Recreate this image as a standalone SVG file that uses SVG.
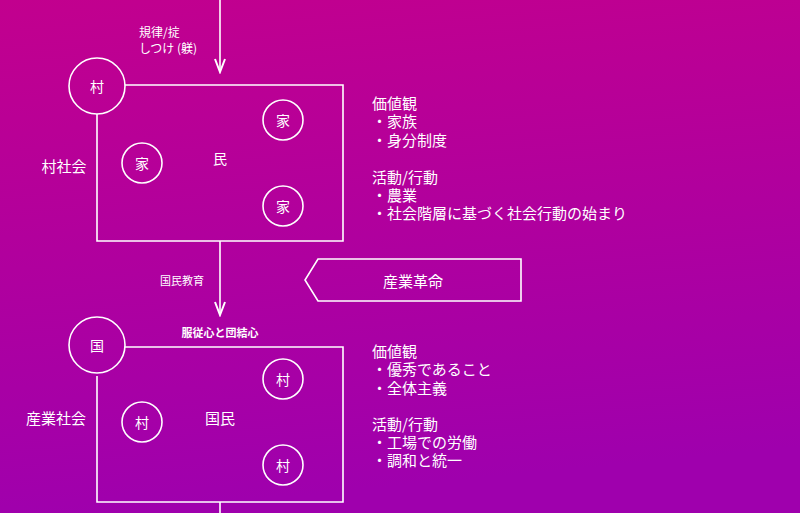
<svg xmlns="http://www.w3.org/2000/svg" width="800" height="513" viewBox="0 0 800 513">
<defs>
<linearGradient id="bg" x1="0" y1="0" x2="0.15" y2="1">
<stop offset="0" stop-color="#c2008e"/>
<stop offset="1" stop-color="#9f00ad"/>
</linearGradient>
<marker id="arr" viewBox="0 0 16 12" refX="14" refY="6" markerWidth="16" markerHeight="12" markerUnits="userSpaceOnUse" orient="auto">
<path d="M1,1 L14,6 L1,11" fill="none" stroke="#fff" stroke-width="2"/>
</marker>
<style>
.ln{fill:none;stroke:#fff;stroke-width:1.6}
.c{fill:none;stroke:#fff;stroke-width:1.6}
text{fill:#fff;font-family:"Noto Sans CJK JP","Noto Sans",sans-serif}
.m{text-anchor:middle;dominant-baseline:central}
.t15{font-size:15px}
.t14{font-size:14px}
.t12{font-size:12px}
.t11{font-size:11px}
.b{font-weight:bold}
</style>
</defs>
<rect width="800" height="513" fill="url(#bg)"/>
<g id="connectors">
<line class="ln" x1="220" y1="0" x2="220" y2="72" marker-end="url(#arr)"/>
<line class="ln" x1="220" y1="241" x2="220" y2="315" marker-end="url(#arr)"/>
<line class="ln" x1="220" y1="502" x2="220" y2="513"/>
<text class="t12" x="139" y="37">規律/掟<tspan x="139" y="53">しつけ (躾)</tspan></text>
<text class="t11 m" x="182" y="280">国民教育</text>
<text class="t11 m b" x="220" y="332">服従心と団結心</text>
</g>
<g id="village-society">
<path class="ln" d="M125,85 H343 V241 H97 V114"/>
<circle class="c" cx="97" cy="86" r="28"/>
<text class="t14 m" x="97" y="86">村</text>
<text class="t15 m" x="64" y="165">村社会</text>
<text class="t14 m" x="220" y="158">民</text>
<g id="ie1"><circle class="c" cx="283" cy="120" r="20"/><text class="t14 m" x="283" y="120">家</text></g>
<g id="ie2"><circle class="c" cx="142" cy="163" r="20"/><text class="t14 m" x="142" y="163">家</text></g>
<g id="ie3"><circle class="c" cx="283" cy="206" r="20"/><text class="t14 m" x="283" y="206">家</text></g>
</g>
<g id="village-notes">
<text class="t15" x="372" y="109">価値観<tspan x="372" y="127">・家族</tspan><tspan x="372" y="146">・身分制度</tspan><tspan x="372" y="183">活動/行動</tspan><tspan x="372" y="201">・農業</tspan><tspan x="372" y="219">・社会階層に基づく社会行動の始まり</tspan></text>
</g>
<g id="industrial-revolution">
<path class="ln" d="M318,259 H521 V301 H318 L305,280 Z"/>
<text class="t15 m" x="413" y="280">産業革命</text>
</g>
<g id="industrial-society">
<path class="ln" d="M125,347 H343 V502 H97 V376"/>
<circle class="c" cx="97" cy="345" r="28"/>
<text class="t14 m" x="97" y="345">国</text>
<text class="t15 m" x="56" y="417">産業社会</text>
<text class="t15 m" x="220" y="417">国民</text>
<g id="mura1"><circle class="c" cx="283" cy="379" r="20"/><text class="t14 m" x="283" y="379">村</text></g>
<g id="mura2"><circle class="c" cx="142" cy="422" r="20"/><text class="t14 m" x="142" y="422">村</text></g>
<g id="mura3"><circle class="c" cx="283" cy="465" r="20"/><text class="t14 m" x="283" y="465">村</text></g>
</g>
<g id="industrial-notes">
<text class="t15" x="372" y="357">価値観<tspan x="372" y="375">・優秀であること</tspan><tspan x="372" y="394">・全体主義</tspan><tspan x="372" y="430">活動/行動</tspan><tspan x="372" y="448">・工場での労働</tspan><tspan x="372" y="466">・調和と統一</tspan></text>
</g>
</svg>
